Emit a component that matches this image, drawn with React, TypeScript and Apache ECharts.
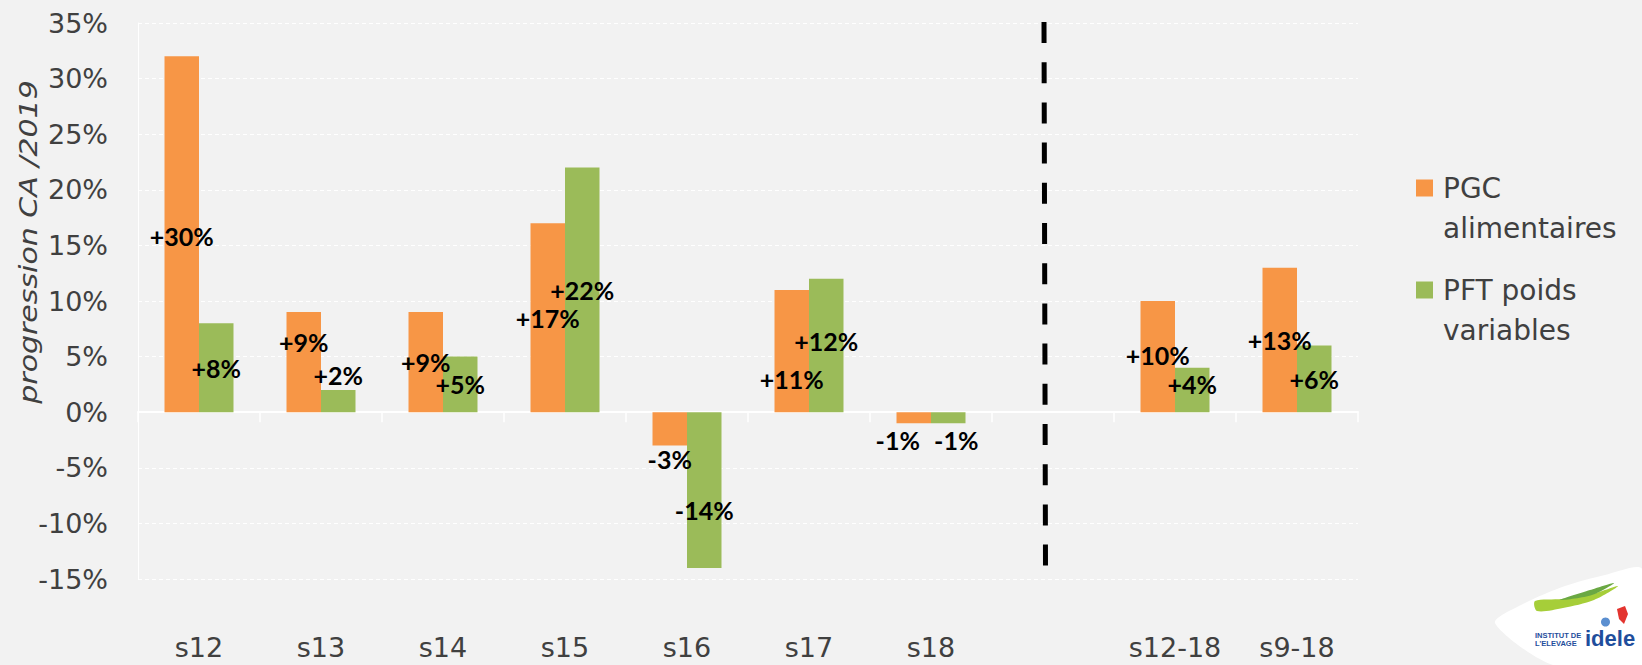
import React, { useEffect, useRef } from 'react';
import * as echarts from 'echarts';

// ---- data ----
const categories = ['s12', 's13', 's14', 's15', 's16', 's17', 's18', '', 's12-18', 's9-18'];
const pgcValues: (number | null)[] = [32, 9, 9, 17, -3, 11, -1, null, 10, 13];
const pftValues: (number | null)[] = [8, 2, 5, 22, -14, 12, -1, null, 4, 6];
const pgcLabels = ['+30%', '+9%', '+9%', '+17%', '-3%', '+11%', '-1%', '', '+10%', '+13%'];
const pftLabels = ['+8%', '+2%', '+5%', '+22%', '-14%', '+12%', '-1%', '', '+4%', '+6%'];
const seriesNames = ['PGC\nalimentaires', 'PFT poids\nvariables'];
const yMin = -15;
const yMax = 35;
const yStep = 5;
const yAxisTitle = 'progression CA /2019';

// ---- label placement (layout, not data) ----
const pgcLabelOffsets = [[0, 2], [0, -20], [0, 0], [0, 0], [0, 30], [0, 28], [-16, 22], [0, 0], [0, -2], [0, 0]];
const pftLabelOffsets = [[0, 0], [0, -26], [0, 0], [0, 0], [0, 20], [0, -4], [8, 22], [0, 0], [0, -6], [0, 0]];

const ORANGE = '#f79646';
const GREEN = '#9bbb59';
const TEXT = '#404040';
const FONT = '"DejaVu Sans", sans-serif';

function buildData(values: (number | null)[], offsets: number[][]) {
  return values.map((v, i) => ({
    value: v === null ? '-' : v,
    label: { offset: offsets[i] },
  }));
}

export default function App() {
  const ref = useRef<HTMLDivElement>(null);

  useEffect(() => {
    if (!ref.current) return;
    const chart = echarts.init(ref.current, null, { renderer: 'svg' });

    const labelStyle = (texts: string[]) => ({
      show: true,
      position: 'inside',
      color: '#000',
      fontFamily: 'Lato, sans-serif',
      fontWeight: 'bold',
      fontSize: 25,
      lineHeight: 24,
      formatter: (p: any) => texts[p.dataIndex] || '',
    });

    const option: any = {
      animation: false,
      backgroundColor: '#f2f2f2',
      grid: { left: 138, top: 23, width: 1220, height: 556, containLabel: false, outerBoundsMode: 'none' },
      legend: {
        orient: 'vertical',
        left: 1416,
        top: 168,
        padding: 0,
        itemWidth: 22,
        itemHeight: 80,
        itemGap: 22,
        icon: 'path://M0,0L0,0M0,11.5L17,11.5L17,28.5L0,28.5ZM22,80L22,80',
        textStyle: { fontFamily: FONT, fontSize: 28, color: TEXT, lineHeight: 40 },
        data: seriesNames,
      },
      xAxis: [
        {
          // labels along the bottom of the plot
          type: 'category',
          data: categories,
          position: 'bottom',
          axisLine: { show: false, onZero: false },
          axisTick: { show: false },
          axisLabel: { margin: 55, fontFamily: FONT, fontSize: 27, color: TEXT },
          splitLine: { show: false },
        },
        {
          // zero line with category ticks
          type: 'category',
          data: categories,
          position: 'bottom',
          axisLine: { show: true, onZero: true, lineStyle: { color: '#ffffff', width: 2 } },
          axisTick: { show: true, length: 10, lineStyle: { color: '#ffffff', width: 1.5 } },
          axisLabel: { show: false },
          splitLine: { show: false },
        },
      ],
      yAxis: {
        type: 'value',
        min: yMin,
        max: yMax,
        interval: yStep,
        axisLine: { show: true, lineStyle: { color: '#ffffff', width: 1 } },
        axisTick: { show: false },
        axisLabel: { margin: 30, fontFamily: FONT, fontSize: 27, color: TEXT, formatter: '{value}%' },
        splitLine: { show: true, lineStyle: { color: '#ffffff', width: 1, type: [4, 3] } },
      },
      series: [
        {
          name: seriesNames[0],
          type: 'bar',
          xAxisIndex: 0,
          barWidth: 34.5,
          barGap: '0%',
          itemStyle: { color: ORANGE },
          label: labelStyle(pgcLabels),
          data: buildData(pgcValues, pgcLabelOffsets),
          z: 2,
        },
        {
          name: seriesNames[1],
          type: 'bar',
          xAxisIndex: 0,
          barWidth: 34.5,
          barGap: '0%',
          itemStyle: { color: GREEN },
          label: labelStyle(pftLabels),
          data: buildData(pftValues, pftLabelOffsets),
          z: 2,
        },
      ],
      graphic: [
        {
          type: 'text',
          x: 28,
          y: 242,
          rotation: Math.PI / 2,
          scaleX: 1.2,
          style: {
            text: yAxisTitle,
            fontFamily: FONT,
            fontStyle: 'italic',
            fontSize: 25,
            fill: TEXT,
            textAlign: 'center',
            textVerticalAlign: 'middle',
          },
        },
        {
          type: 'line',
          shape: { x1: 1044, y1: 22, x2: 1045.5, y2: 566 },
          style: { stroke: '#000', lineWidth: 5, lineDash: [21, 19.2] },
          z: 10,
        },
        // logo
        {
          type: 'polygon',
          shape: {
            points: [[1495, 623], [1525, 603], [1565, 586], [1605, 575], [1642, 569], [1642, 665], [1553, 665]],
            smooth: 0.25,
          },
          style: { fill: '#ffffff' },
        },
        {
          type: 'polygon',
          shape: {
            points: [[1535, 601], [1562, 599], [1592, 594], [1618, 586], [1594, 600], [1563, 608], [1537, 611]],
            smooth: 0.3,
          },
          style: { fill: '#a6ce39' },
        },
        {
          type: 'polygon',
          shape: { points: [[1560, 600], [1590, 590], [1614, 583], [1592, 595]], smooth: 0.3 },
          style: { fill: '#6aa843' },
        },
        {
          type: 'circle',
          shape: { cx: 1605.5, cy: 622, r: 4.5 },
          style: { fill: '#5b8fd0' },
        },
        {
          type: 'polygon',
          shape: { points: [[1617, 609], [1625, 606], [1628, 614], [1624, 624], [1619, 619]] },
          style: { fill: '#e3342f' },
        },
        {
          type: 'text',
          x: 1535,
          y: 635,
          style: { text: 'INSTITUT DE', fontFamily: '"Liberation Sans", sans-serif', fontWeight: 'bold', fontSize: 7.5, fill: '#1f4e9c', textVerticalAlign: 'middle' },
        },
        {
          type: 'text',
          x: 1535,
          y: 643,
          style: { text: "L'ELEVAGE", fontFamily: '"Liberation Sans", sans-serif', fontWeight: 'bold', fontSize: 7.5, fill: '#1f4e9c', textVerticalAlign: 'middle' },
        },
        {
          type: 'text',
          x: 1585,
          y: 638,
          style: { text: 'idele', fontFamily: '"Liberation Sans", sans-serif', fontWeight: 'bold', fontSize: 22, fill: '#1f4e9c', textVerticalAlign: 'middle' },
        },
      ],
    };

    chart.setOption(option);
    return () => chart.dispose();
  }, []);

  return (
    <div
      ref={ref}
      style={{ position: 'fixed', left: 0, top: 0, width: 1642, height: 665, background: '#f2f2f2' }}
    />
  );
}
